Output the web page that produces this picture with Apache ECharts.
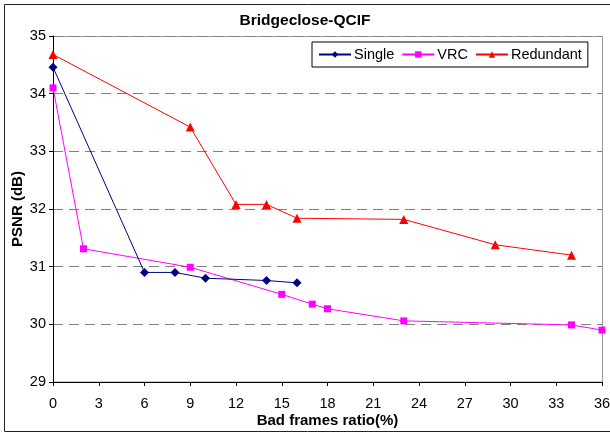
<!DOCTYPE html>
<html>
<head>
<meta charset="utf-8">
<script src="https://cdn.jsdelivr.net/npm/echarts@6/dist/echarts.min.js"></script>
<style>
  html, body { margin: 0; padding: 0; background: #fff; }
  #chart { width: 610px; height: 434px; }
</style>
</head>
<body>
<div id="chart"></div>
<script>
// values
const singleData = [[0, 34.46], [6, 30.9], [8, 30.9], [10, 30.8], [14, 30.76], [16, 30.72]]
const vrcData = [[0, 34.1], [2, 31.31], [9, 30.99], [15, 30.52], [17, 30.35], [18, 30.27], [23, 30.06], [34, 29.99], [36, 29.9]]
const redundantData = [[0, 34.68], [9, 33.42], [12, 32.08], [14, 32.08], [16, 31.84], [23, 31.82], [29, 31.38], [34, 31.2]]
const seriesNames = ['Single', 'VRC', 'Redundant']

const font = 'Liberation Sans, Arial, sans-serif'

const chart = echarts.init(document.getElementById('chart'))

const option = {
  animation: false,
  textStyle: { fontFamily: font },
  title: {
    text: 'Bridgeclose-QCIF',
    left: 'center',
    top: 8,
    textStyle: { fontSize: 15.5, fontWeight: 'bold', color: '#000', fontFamily: font }
  },
  graphic: [
    {
      type: 'rect',
      shape: { x: 4.5, y: 4.5, width: 640, height: 427 },
      style: { fill: 'none', stroke: '#222', lineWidth: 1 },
      silent: true
    },
    {
      type: 'rect',
      shape: { x: 53.5, y: 36.5, width: 549, height: 345.5 },
      style: { fill: 'none', stroke: '#999', lineWidth: 1 },
      silent: true,
      z: -1
    }
  ],
  legend: {
    data: seriesNames,
    left: 312,
    top: 42,
    orient: 'horizontal',
    itemWidth: 32,
    itemHeight: 8,
    itemGap: 7,
    padding: [5, 6, 5, 6],
    borderColor: '#000',
    borderWidth: 1,
    textStyle: { fontSize: 14.5, color: '#000', fontFamily: font, padding: [0, 0, 0, -2] }
  },
  grid: { left: 53, right: 8, top: 36, bottom: 52, containLabel: false, outerBoundsMode: 'none' },
  xAxis: {
    type: 'value',
    min: 0,
    max: 36,
    interval: 3,
    name: 'Bad frames ratio(%)',
    nameLocation: 'middle',
    nameGap: 31,
    nameMoveOverlap: false,
    nameTextStyle: { fontSize: 15, fontWeight: 'bold', color: '#000', fontFamily: font },
    axisLine: { lineStyle: { color: '#000', width: 1 } },
    axisTick: { show: true, inside: false, length: 4, lineStyle: { color: '#000' } },
    axisLabel: { fontSize: 14.5, color: '#000', margin: 14, fontFamily: font },
    splitLine: { show: false }
  },
  yAxis: {
    type: 'value',
    min: 29,
    max: 35,
    interval: 1,
    name: 'PSNR (dB)',
    nameLocation: 'middle',
    nameGap: 28,
    nameMoveOverlap: false,
    nameTextStyle: { fontSize: 15, fontWeight: 'bold', color: '#000', fontFamily: font },
    axisLine: { show: true, lineStyle: { color: '#000', width: 1 } },
    axisTick: { show: true, inside: false, length: 4, lineStyle: { color: '#000' } },
    axisLabel: { fontSize: 14.5, color: '#000', margin: 7, fontFamily: font },
    splitLine: { show: true, lineStyle: { color: '#808080', type: [10, 6], width: 1 } }
  },
  series: [
    {
      name: 'Single',
      type: 'line',
      data: singleData,
      symbol: 'diamond',
      symbolSize: 9,
      color: '#000080',
      lineStyle: { width: 1, color: '#000080' },
      itemStyle: { color: '#000080' },
      z: 3
    },
    {
      name: 'VRC',
      type: 'line',
      data: vrcData,
      symbol: 'rect',
      symbolSize: 7,
      color: '#ff00ff',
      lineStyle: { width: 1, color: '#ff00ff' },
      itemStyle: { color: '#ff00ff' },
      z: 2
    },
    {
      name: 'Redundant',
      type: 'line',
      data: redundantData,
      symbol: 'triangle',
      symbolSize: 9,
      color: '#ff0000',
      lineStyle: { width: 1, color: '#ff0000' },
      itemStyle: { color: '#ff0000' },
      z: 4
    }
  ]
}

chart.setOption(option)
</script>
</body>
</html>
